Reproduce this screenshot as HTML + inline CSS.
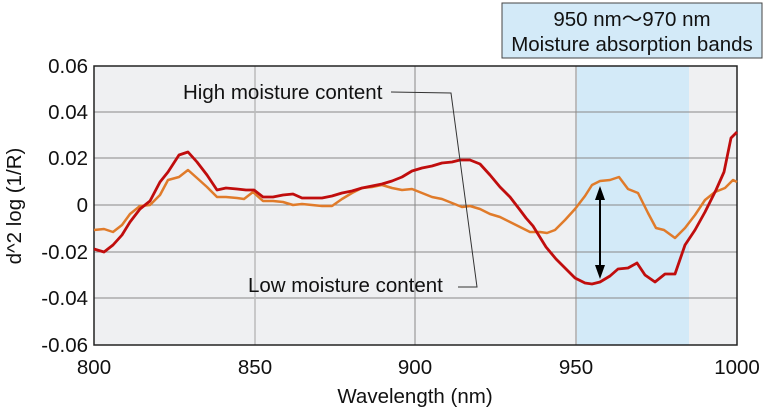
<!DOCTYPE html>
<html><head><style>
body{margin:0;background:#fff;}
svg text{font-family:"Liberation Sans",Arial,sans-serif;fill:#111;}
</style></head><body>
<svg width="769" height="410" viewBox="0 0 769 410" xmlns="http://www.w3.org/2000/svg">
<rect x="94" y="66" width="643" height="279" fill="#eff0f2"/>
<rect x="577" y="66" width="112" height="279" fill="#d3eaf8"/>
<g stroke="#888" stroke-width="1">
<line x1="94" y1="112" x2="737" y2="112"/><line x1="94" y1="158" x2="737" y2="158"/>
<line x1="94" y1="205" x2="737" y2="205"/><line x1="94" y1="252" x2="737" y2="252"/>
<line x1="94" y1="298" x2="737" y2="298"/>
<line x1="255" y1="66" x2="255" y2="345" stroke="#bbb" stroke-width="1.5"/><line x1="415" y1="66" x2="415" y2="345"/><line x1="576" y1="66" x2="576" y2="345"/>
</g>
<rect x="94" y="66" width="643" height="279" fill="none" stroke="#222" stroke-width="1.5"/>
<polyline fill="none" stroke="#e07b2a" stroke-width="2.5" stroke-linejoin="round" points="94,230 104,229 113,232 122,225 130,214 140,206 150,205 160,195 168,180 179,177 188,170 197,178 207,187 217,197 226,197 237,198 244,199 253,192 263,201 273,201 283,202 293,205 302,204 312,205 322,206 332,206 342,199 352,193 362,188 372,187 382,185 392,188 402,190 412,189 422,193 432,197 442,199 452,203 462,207 470,206 480,209 490,214 500,217 510,222 520,227 530,232 540,232 547,233 555,230 565,220 575,209 585,196 592,185 600,181 610,180 619,177 628,189 638,193 648,213 656,228 664,230 675,238 685,228 695,215 705,200 715,192 725,188 733,180 737,182"/>
<polyline fill="none" stroke="#c00d0d" stroke-width="2.8" stroke-linejoin="round" points="94,249 104,252 113,245 122,235 130,222 140,209 150,201 160,182 168,172 179,155 188,152 197,162 207,175 217,190 226,188 237,189 246,190 254,190 263,197 273,197 283,195 293,194 302,198 312,198 322,198 332,196 342,193 352,191 362,188 372,186 382,184 392,181 402,177 412,171 422,168 432,166 442,163 452,162 460,160 470,160 480,164 490,175 500,187 510,197 520,210 526,218 533,226 546,247 556,259 563,266 575,278 585,283 592,284 600,282 610,276 618,269 628,268 637,263 645,275 655,282 665,274 675,274 685,245 695,230 705,212 716,190 724,172 731,138 737,132"/>
<polyline fill="none" stroke="#333" stroke-width="1" points="391,92 451,93 477,287 458,287"/>
<g stroke="#000" stroke-width="2"><line x1="600" y1="197" x2="600" y2="268"/></g>
<polygon points="600,186 595,200 605,200" fill="#000"/><polygon points="600,279 595,265 605,265" fill="#000"/>
<text x="183" y="99" font-size="20.5">High moisture content</text>
<text x="248" y="292" font-size="20.5">Low moisture content</text>
<rect x="502" y="3" width="260" height="55" fill="#d3eaf8" stroke="#444" stroke-width="1"/>
<text x="632" y="26" font-size="20.5" text-anchor="middle">950 nm〜970 nm</text>
<text x="632" y="51" font-size="20.5" text-anchor="middle">Moisture absorption bands</text>
<g font-size="20.5" text-anchor="end">
<text x="88" y="73">0.06</text><text x="88" y="119">0.04</text><text x="88" y="165">0.02</text>
<text x="88" y="212">0</text><text x="88" y="259">-0.02</text><text x="88" y="305">-0.04</text><text x="88" y="352">-0.06</text>
</g>
<g font-size="20.5" text-anchor="middle">
<text x="94" y="374">800</text><text x="255" y="374">850</text><text x="415" y="374">900</text><text x="576" y="374">950</text><text x="737" y="374">1000</text>
<text x="415" y="403">Wavelength (nm)</text>
</g>
<text transform="translate(21,206) rotate(-90)" font-size="20.5" text-anchor="middle">d^2 log (1/R)</text>
</svg>
</body></html>
